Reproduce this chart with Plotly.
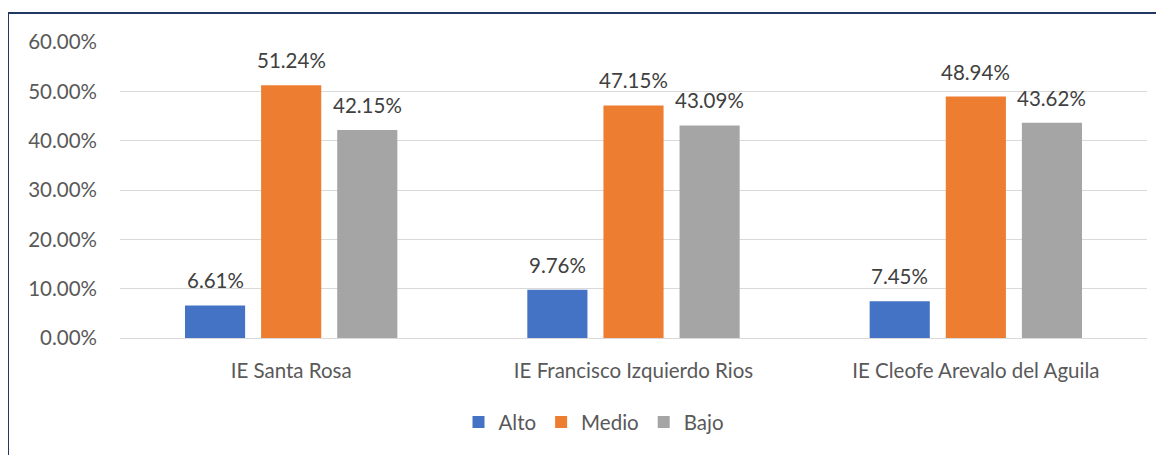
import plotly.graph_objects as go

categories = ["IE Santa Rosa", "IE Francisco Izquierdo Rios", "IE Cleofe Arevalo del Aguila"]
series_names = ["Alto", "Medio", "Bajo"]
alto = [0.0661, 0.0976, 0.0745]
medio = [0.5124, 0.4715, 0.4894]
bajo = [0.4215, 0.4309, 0.4362]
colors = ["#4472C4", "#ED7D31", "#A5A5A5"]

FONT = "Lato, 'Open Sans', sans-serif"
FS = 20.5

W, H = 1156, 447
L, R, T, B = 112, 17, 34, 117
plot_w = W - L - R

fig = go.Figure()
offsets = [-76, 0, 76]
annotations = []
for name, vals, col, off in zip(series_names, [alto, medio, bajo], colors, offsets):
    fig.add_trace(go.Bar(
        x=categories, y=vals, name=name,
        marker=dict(color=col, line=dict(width=0)),
        cliponaxis=False,
    ))
    for c, v in zip(categories, vals):
        annotations.append(dict(x=c, y=v, xref="x", yref="y", text=f"{v*100:.2f}%",
                                showarrow=False, xshift=off, yshift=11, yanchor="bottom",
                                font=dict(size=FS, color="#404040", family=FONT)))

bx = (0 - L) / plot_w
by = (H - B - 5) / (H - T - B)
fig.update_layout(
    width=W, height=H,
    margin=dict(l=L, r=R, t=T, b=B),
    paper_bgcolor="white", plot_bgcolor="white",
    barmode="group", bargap=0.333, bargroupgap=0.21,
    font=dict(family=FONT, size=FS, color="#595959"),
    showlegend=True,
    legend=dict(orientation="h", x=(586 - L) / plot_w, xanchor="center", y=-0.284, yanchor="middle",
                font=dict(size=FS, color="#595959"), itemwidth=30, traceorder="normal"),
    annotations=annotations,
    shapes=[dict(type="line", xref="paper", yref="paper", x0=bx, x1=1.2,
                 y0=by, y1=by, line=dict(color="#203864", width=2)),
            dict(type="line", xref="paper", yref="paper", x0=bx, x1=bx,
                 y0=by, y1=-0.5, line=dict(color="#203864", width=2))],
)
fig.update_yaxes(range=[0, 0.6], dtick=0.1, tickformat=".2%", showgrid=True,
                 gridcolor="#D9D9D9", gridwidth=1, zeroline=False, showline=False,
                 ticks="", ticklabelstandoff=22, tickfont=dict(size=FS, color="#595959"))
fig.update_xaxes(showline=True, linecolor="#D9D9D9", linewidth=1, ticks="",
                 ticklabelstandoff=14, tickfont=dict(size=FS, color="#595959"))

fig.write_html("out.html")
